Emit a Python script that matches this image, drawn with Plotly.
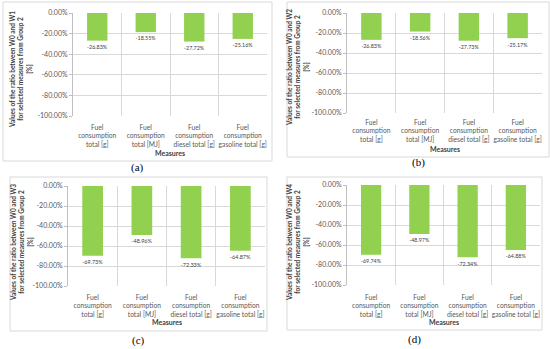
import plotly.graph_objects as go

categories = ["Fuel<br>consumption<br>total [g]", "Fuel<br>consumption<br>total [MJ]",
              "Fuel<br>consumption<br>diesel total [g]", "Fuel<br>consumption<br>gasoline total [g]"]
values_w1 = [-26.83, -18.55, -27.72, -25.16]
values_w2 = [-26.83, -18.56, -27.73, -25.17]
values_w3 = [-69.73, -48.96, -72.33, -64.87]
values_w4 = [-69.74, -48.97, -72.34, -64.88]
y_ticks = [0, -20, -40, -60, -80, -100]
panel_letters = ["(a)", "(b)", "(c)", "(d)"]
ratio_names = ["W1", "W2", "W3", "W4"]

W, H = 550, 349
FONT = "Lato"
GREEN = "#92D050"

def px(x):
    return x / W

def py(y):
    return 1 - y / H

# plot areas (pixels): x0, x1, y0(top), y1(bottom)
plots = [(73, 267, 13, 116), (347, 542, 13, 113), (68, 265, 186, 286), (347, 540, 185, 285)]
frames = [(3, 272, 2, 161), (287, 549, 2, 157), (10, 267, 177, 331), (287, 542, 177, 330)]
standoffs = [6, 4, 6, 7]
measures_y = [152.5, 149, 321.5, 321.5]
letter_y = [168, 163, 340, 339]
title_pos = [(21, 70), (298, 68), (22, 243), (298, 243)]

series = [values_w1, values_w2, values_w3, values_w4]

fig = go.Figure()
shapes = []
annotations = []
for i in range(4):
    xa = "x" if i == 0 else f"x{i+1}"
    ya = "y" if i == 0 else f"y{i+1}"
    fig.add_trace(go.Bar(
        x=categories, y=series[i], xaxis=xa, yaxis=ya,
        marker=dict(color=GREEN, line=dict(width=0)),
        width=0.42,
        texttemplate="%{y:.2f}%", textposition="outside",
        textfont=dict(family=FONT, size=7, color="#404040"),
        cliponaxis=False, showlegend=False, hoverinfo="skip",
    ))
    x0, x1, y0, y1 = plots[i]
    xkey = "xaxis" if i == 0 else f"xaxis{i+1}"
    ykey = "yaxis" if i == 0 else f"yaxis{i+1}"
    fig.layout[xkey] = dict(
        domain=[px(x0), px(x1)], anchor=ya, type="category",
        range=[-0.5, 3.5], tickson="boundaries", showgrid=True,
        gridcolor="#d9d9d9", gridwidth=1, ticks="", showline=False,
        tickangle=0, automargin=False, ticklabelstandoff=standoffs[i],
        tickfont=dict(family=FONT, size=6.7, color="#595959"),
        zeroline=False,
    )
    fig.layout[ykey] = dict(
        domain=[py(y1), py(y0)], anchor=xa, range=[-100, 0],
        tickvals=y_ticks, ticktext=[f"{v:.2f}%" for v in y_ticks],
        showgrid=True, gridcolor="#d9d9d9", gridwidth=1,
        showline=True, linecolor="#bfbfbf", linewidth=1,
        ticks="outside", ticklen=3, tickcolor="#bfbfbf", automargin=False,
        tickfont=dict(family=FONT, size=7, color="#595959"),
        zeroline=False,
    )
    fx0, fx1, fy0, fy1 = frames[i]
    shapes.append(dict(type="rect", xref="paper", yref="paper",
                       x0=px(fx0), x1=px(fx1), y0=py(fy1), y1=py(fy0),
                       line=dict(color="#d9d9d9", width=1), fillcolor="rgba(0,0,0,0)",
                       layer="below"))
    annotations.append(dict(text="<b>Measures</b>", x=px((x0 + x1) / 2), y=py(measures_y[i]),
                            xref="paper", yref="paper", showarrow=False,
                            xanchor="center", yanchor="middle",
                            font=dict(family=FONT, size=7, color="#404040")))
    annotations.append(dict(text=panel_letters[i], x=px((fx0 + fx1) / 2), y=py(letter_y[i]),
                            xref="paper", yref="paper", showarrow=False,
                            xanchor="center", yanchor="middle",
                            font=dict(family="Liberation Serif", size=11, color="#000000")))
    tx, ty = title_pos[i]
    annotations.append(dict(
        text=f"<b>Values of the ratio between W0 and {ratio_names[i]}<br>for selected measures from Group 2<br>[%]</b>",
        x=px(tx), y=py(ty), xref="paper", yref="paper", showarrow=False,
        xanchor="center", yanchor="middle",
        textangle=-90, align="center",
        font=dict(family=FONT, size=6.5, color="#404040")))

fig.update_layout(
    width=W, height=H, margin=dict(l=0, r=0, t=0, b=0),
    paper_bgcolor="white", plot_bgcolor="white",
    shapes=shapes, annotations=annotations, hovermode=False,
)
fig.write_html("out.html", config={"displayModeBar": False},
               post_script="document.body.style.margin='0px';document.body.style.overflow='hidden';")
